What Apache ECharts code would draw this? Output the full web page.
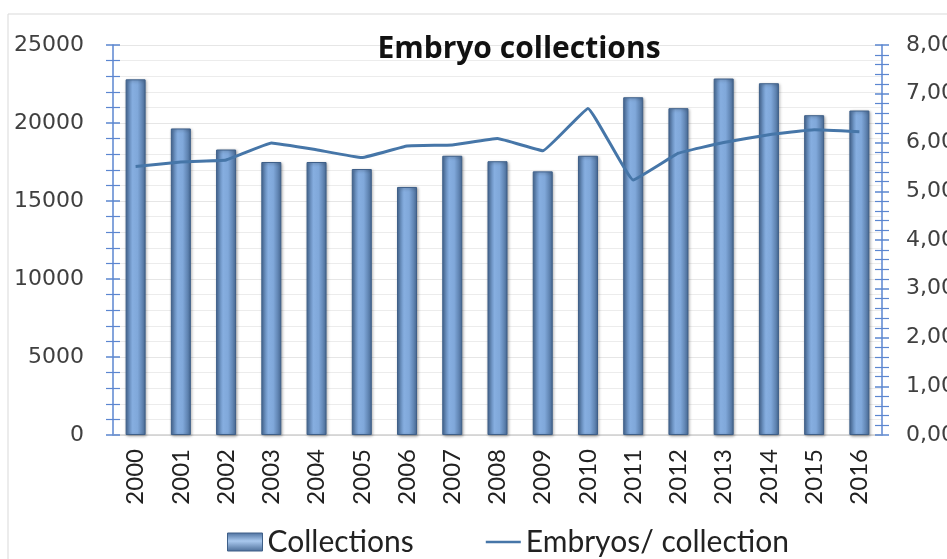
<!DOCTYPE html>
<html>
<head>
<meta charset="utf-8">
<script src="https://cdn.jsdelivr.net/npm/echarts@6/dist/echarts.min.js"></script>
<style>
  html, body { margin: 0; padding: 0; background: #fff; }
  #chart { width: 947px; height: 559px; }
</style>
</head>
<body>
<div id="chart"></div>
<script>
// data
const years = ['2000', '2001', '2002', '2003', '2004', '2005', '2006', '2007', '2008',
  '2009', '2010', '2011', '2012', '2013', '2014', '2015', '2016'];
const collections = [22800, 19650, 18300, 17500, 17500, 17050, 15900, 17900, 17550,
  16900, 17900, 21650, 20950, 22850, 22550, 20500, 20800];
const embryosPerCollection = [5.51, 5.60, 5.64, 5.99, 5.85, 5.69, 5.93, 5.95, 6.08,
  5.83, 6.70, 5.23, 5.78, 6.00, 6.16, 6.26, 6.22];

const axisBlue = '#5b86d0';
const textColor = '#404040';

const barFill = new echarts.graphic.LinearGradient(0, 0, 1, 0, [
  { offset: 0, color: '#4b6f9c' },
  { offset: 0.35, color: '#86aee0' },
  { offset: 0.6, color: '#80a8da' },
  { offset: 1, color: '#4a6c97' }
]);
const legendFill = new echarts.graphic.LinearGradient(0, 0, 0, 1, [
  { offset: 0, color: '#4b6f9c' },
  { offset: 0.45, color: '#a9c8ee' },
  { offset: 1, color: '#4a6c97' }
]);

function ticksAxis(pos, min, max, interval, inside) {
  // duplicate axis used only to draw the tick marks on the other side
  return {
    type: 'value', position: pos, min: min, max: max, interval: interval,
    axisLine: { show: false },
    axisLabel: { show: false },
    splitLine: { show: false },
    axisTick: { show: true, inside: inside, length: 7, lineStyle: { color: axisBlue, width: 1.5 } },
    minorTick: { show: true, splitNumber: 5, length: 7, lineStyle: { color: axisBlue, width: 1.2 } }
  };
}

const chart = echarts.init(document.getElementById('chart'));
const option = {
  backgroundColor: '#fff',
  animation: false,
  title: {
    text: 'Embryo collections',
    left: 514, top: 29, textAlign: 'center',
    textStyle: { fontFamily: 'Open Sans', fontWeight: 'bold', fontSize: 30, color: '#111' }
  },
  legend: {
    top: 522, left: 222, itemGap: 72, itemWidth: 35, itemHeight: 18,
    textStyle: { fontFamily: 'Lato', fontSize: 30, color: '#222' },
    data: [
      { name: 'Collections', icon: 'rect', itemStyle: { color: legendFill, borderColor: '#3e5f88', borderWidth: 1 } },
      { name: 'Embryos/ collection', icon: 'path://M0,0 L30,0 L30,2 L0,2 Z' }
    ]
  },
  grid: { left: 113, right: 65, top: 45, bottom: 124, outerBoundsMode: 'none' },
  xAxis: {
    type: 'category', data: years,
    axisLine: { lineStyle: { color: '#d0d0d0', width: 1.5 } },
    axisTick: { show: false },
    axisLabel: { rotate: 90, margin: 14, fontFamily: 'Lato', fontSize: 24, color: '#222' }
  },
  yAxis: [
    {
      type: 'value', position: 'left', min: 0, max: 25000, interval: 5000,
      axisLine: { show: true, lineStyle: { color: axisBlue, width: 1.5 } },
      axisTick: { show: true, length: 7, lineStyle: { color: axisBlue, width: 1.5 } },
      minorTick: { show: true, splitNumber: 5, length: 7, lineStyle: { color: axisBlue, width: 1.2 } },
      axisLabel: {
        margin: 29, fontFamily: 'DejaVu Sans', fontSize: 22, color: textColor,
        formatter: v => String(v)
      },
      splitLine: { show: true, lineStyle: { color: '#e6e6e6', width: 1.2 } },
      minorSplitLine: { show: true, lineStyle: { color: '#ececec', width: 1.2 } }
    },
    {
      type: 'value', position: 'right', min: 0, max: 8, interval: 1,
      axisLine: { show: true, lineStyle: { color: axisBlue, width: 1.5 } },
      axisTick: { show: true, length: 7, lineStyle: { color: axisBlue, width: 1.5 } },
      minorTick: { show: true, splitNumber: 5, length: 7, lineStyle: { color: axisBlue, width: 1.2 } },
      axisLabel: {
        margin: 24, fontFamily: 'DejaVu Sans', fontSize: 22, color: textColor,
        formatter: v => v.toFixed(2).replace('.', ',')
      },
      splitLine: { show: false }
    },
    ticksAxis('left', 0, 25000, 5000, true),
    ticksAxis('right', 0, 8, 1, true)
  ],
  series: [
    {
      name: 'Collections', type: 'bar', yAxisIndex: 0, data: collections,
      barWidth: 20,
      itemStyle: {
        color: barFill, borderColor: '#3e5f88', borderWidth: 1,
        shadowColor: 'rgba(0,0,0,0.35)', shadowBlur: 3, shadowOffsetX: 1, shadowOffsetY: 1
      }
    },
    {
      name: 'Embryos/ collection', type: 'line', yAxisIndex: 1, data: embryosPerCollection,
      smooth: 0.08, symbol: 'none',
      lineStyle: { color: '#4676a8', width: 3 },
      itemStyle: { color: '#4676a8' },
      z: 5
    }
  ],
  graphic: [
    {
      type: 'rect', silent: true, z: -1,
      shape: { x: 8, y: 14, width: 960, height: 560 },
      style: { fill: 'none', stroke: '#d9d9d9', lineWidth: 1 }
    }
  ]
};
chart.setOption(option);
</script>
</body>
</html>
